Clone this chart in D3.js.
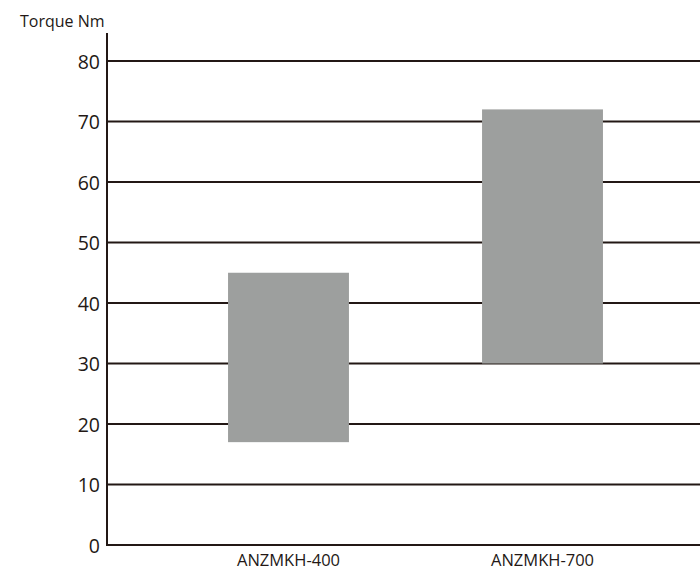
<!DOCTYPE html>
<html>
<head>
<meta charset="utf-8">
<script src="https://cdn.jsdelivr.net/npm/d3@7"></script>
<style>
html,body{margin:0;padding:0;background:#fff;}
svg{display:block;}
</style>
</head>
<body>
<svg id="chart" width="700" height="576"></svg>
<script>
const categories = ["ANZMKH-400", "ANZMKH-700"];
const minValues = [17, 30];
const maxValues = [45, 72];
const yTicks = [0, 10, 20, 30, 40, 50, 60, 70, 80];
const yTitle = "Torque Nm";

const W = 700, H = 576;
const axisX = 107, axisTop = 33, plotRight = 700;
const lineColor = "#231815";
const barColor = "#9d9f9e";
const font = "'Open Sans', 'Noto Sans', sans-serif";

const svg = d3.select("#chart");

const y = d3.scaleLinear().domain([0, 80]).range([545, 61]);
const x = d3.scaleBand().domain(categories).range([107, 724]).paddingInner(0.524).paddingOuter(0.4765);

// gridlines
svg.append("g").selectAll("line").data(yTicks).join("line")
  .attr("x1", axisX).attr("x2", plotRight)
  .attr("y1", d => y(d)).attr("y2", d => y(d))
  .attr("stroke", lineColor).attr("stroke-width", 2);

// bars (floating range)
const data = categories.map((c, i) => ({c, lo: minValues[i], hi: maxValues[i]}));
svg.append("g").selectAll("rect").data(data).join("rect")
  .attr("x", d => x(d.c))
  .attr("width", x.bandwidth())
  .attr("y", d => y(d.hi))
  .attr("height", d => y(d.lo) - y(d.hi))
  .attr("fill", barColor);

// y axis line
svg.append("line")
  .attr("x1", axisX).attr("x2", axisX)
  .attr("y1", axisTop).attr("y2", y(0) + 1)
  .attr("stroke", lineColor).attr("stroke-width", 2);

// y tick labels
const yAxis = d3.axisLeft(y).tickValues(yTicks).tickSize(0).tickPadding(7);
const ya = svg.append("g").attr("transform", `translate(${axisX},0)`).call(yAxis);
ya.select(".domain").remove();
ya.selectAll("text")
  .attr("font-family", font).attr("font-size", 19.5).attr("fill", lineColor)
  .attr("dy", "0.36em");

// x labels
const xAxis = d3.axisBottom(x).tickSize(0).tickPadding(9);
const xa = svg.append("g").attr("transform", `translate(0,${y(0)})`).call(xAxis);
xa.select(".domain").remove();
xa.selectAll("text")
  .attr("font-family", font).attr("font-size", 16.5).attr("fill", lineColor);

// y title
svg.append("text")
  .attr("x", 20).attr("y", 27)
  .attr("font-family", font).attr("font-size", 16)
  .attr("fill", lineColor)
  .text(yTitle);
</script>
</body>
</html>
